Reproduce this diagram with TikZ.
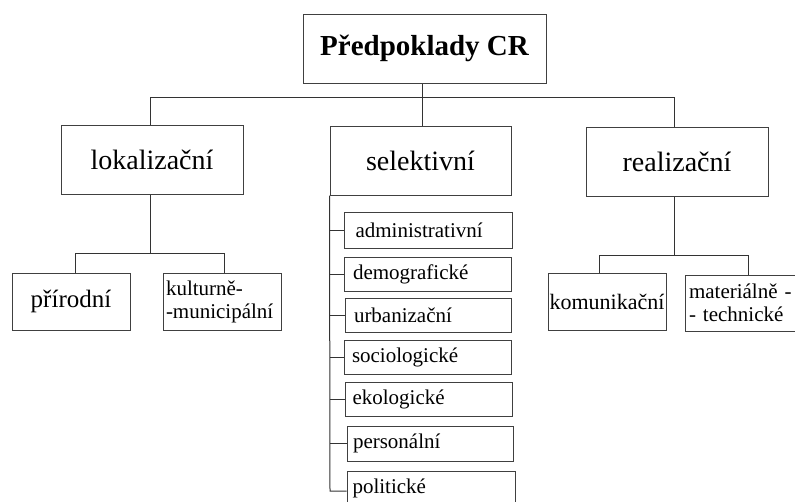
\documentclass[tikz,border=0pt]{standalone}
\usepackage{fontspec}
\setmainfont{Liberation Serif}
\begin{document}
\begin{tikzpicture}[x=1pt,y=-1pt,
  box/.style={draw=black!75, line width=1pt, rectangle, inner sep=0pt, fill=white},
  conn/.style={draw=black!80, line width=1pt},
  big/.style={font=\fontsize{28}{32}\selectfont},
  mid/.style={font=\fontsize{25}{28}\selectfont},
  small/.style={font=\fontsize{21}{23}\selectfont},
  lefttext/.style={align=left, text width=#1}
]
\useasboundingbox[fill=white] (0,0) rectangle (795,501);
% level 1
\node[box, minimum width=243, minimum height=69, font=\bfseries\fontsize{29}{33}\selectfont] (top) at (424.5,48.5) {Předpoklady CR};
% level 2
\node[box, big, minimum width=182, minimum height=69] (lok) at (152,159.5) {lokalizační};
\node[box, big, minimum width=181, minimum height=69] (sel) at (420.5,160.5) {selektivní};
\node[box, big, minimum width=182, minimum height=69] (real) at (677,161.5) {realizační};
% level 3 left
\node[box, mid, minimum width=118, minimum height=57] (prir) at (71,301.5) {přírodní};
\node[box, small, minimum width=118, minimum height=57, align=left, text width=112] (kult) at (222,301.5) {kulturně-\\-municipální};
% level 3 right
\node[box, font=\fontsize{22}{24}\selectfont, minimum width=118, minimum height=57] (kom) at (607,301.5) {komunikační};
\node[box, small, minimum width=120, minimum height=56, align=left, text width=112] (mat) at (745,303) {materiálně -\\- technické};
% selective children
\node[box, small, minimum width=168, minimum height=36, align=left, text width=145] (adm) at (428,230) {administrativní};
\node[box, small, minimum width=167, minimum height=34, align=left, text width=149] (dem) at (427.5,274) {demografické};
\node[box, small, minimum width=166, minimum height=34, align=left, text width=148] (urb) at (428,315) {urbanizační};
\node[box, small, minimum width=167, minimum height=34, align=left, text width=151] (soc) at (427.5,357) {sociologické};
\node[box, small, minimum width=167, minimum height=34, align=left, text width=152] (eko) at (428.5,399) {ekologické};
\node[box, small, minimum width=166, minimum height=35, align=left, text width=154] (per) at (430,443.5) {personální};
\node[box, small, minimum width=168, minimum height=35, align=left, text width=157] (pol) at (431,488.5) {politické};
% connectors top
\coordinate (bus) at (422,97);
\coordinate (busL) at (150,97);
\coordinate (busR) at (674,97);
\draw[conn] (top.south -| bus) -- (sel.north -| bus);
\draw[conn] (busL |- lok.north) -- (busL) -- (busR) -- (busR |- real.north);
% left subtree
\coordinate (lbus) at (150,253);
\coordinate (lb1) at (75,253);
\coordinate (lb2) at (224,253);
\draw[conn] (lok.south -| lbus) -- (lbus);
\draw[conn] (lb1 |- prir.north) -- (lb1) -- (lb2) -- (lb2 |- kult.north);
% right subtree
\coordinate (rbus) at (674,255);
\coordinate (rb1) at (599,255);
\coordinate (rb2) at (748,255);
\draw[conn] (real.south -| rbus) -- (rbus);
\draw[conn] (rb1 |- kom.north) -- (rb1) -- (rb2) -- (rb2 |- mat.north);
% selective bracket
\coordinate (sb) at (330,491);
\draw[conn] (sel.south west) -- (sb) -- (sb -| pol.west);
\draw[conn] (sb |- adm.west) -- (adm.west);
\draw[conn] (sb |- dem.west) -- (dem.west);
\draw[conn] (sb |- urb.west) -- (urb.west);
\draw[conn] (sb |- soc.west) -- (soc.west);
\draw[conn] (sb |- eko.west) -- (eko.west);
\draw[conn] (sb |- per.west) -- (per.west);
\end{tikzpicture}
\end{document}
